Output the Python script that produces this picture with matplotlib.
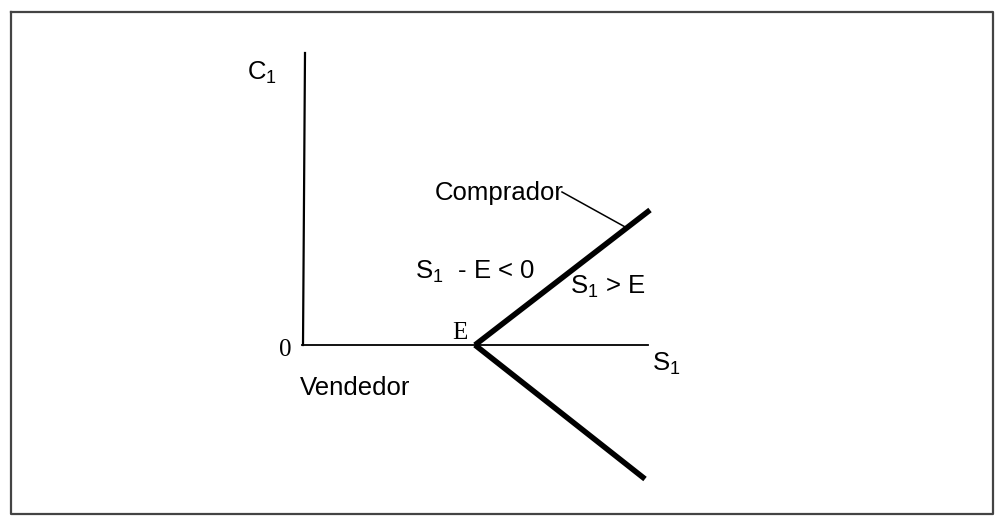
import matplotlib
matplotlib.use("Agg")
import matplotlib.pyplot as plt

plt.rcParams["mathtext.fontset"] = "custom"
plt.rcParams["mathtext.rm"] = "Liberation Sans"
plt.rcParams["mathtext.it"] = "Liberation Sans"

# diagram lines (pixel coords of the scanned figure, y down)
marco_x = [11, 993, 993, 11, 11]
marco_y = [12, 12, 514, 514, 12]
eje_c_x = [305, 303]
eje_c_y = [53, 345]
eje_s_x = [302, 648]
eje_s_y = [345, 345]
comprador_x = [475, 650]
comprador_y = [345, 210]
vendedor_x = [475, 645]
vendedor_y = [345, 479]
guia_x = [562, 627]
guia_y = [192, 228]

fig = plt.figure(figsize=(9.98, 5.18), dpi=100)
ax = fig.add_axes([0, 0, 1, 1])
ax.set_xlim(0, 998)
ax.set_ylim(518, 0)
ax.axis("off")

#frame
ax.plot(marco_x, marco_y, color="#444444", lw=1.6)

#axes
ax.plot(eje_c_x, eje_c_y, color="black", lw=1.6)
ax.plot(eje_s_x, eje_s_y, color="black", lw=1.3)

#thick lines from E
ax.plot(comprador_x, comprador_y, color="black", lw=4, solid_capstyle="butt")
ax.plot(vendedor_x, vendedor_y, color="black", lw=4, solid_capstyle="butt")
ax.plot(guia_x, guia_y, color="black", lw=1.1)

sans = "Liberation Sans"
serif = "Liberation Serif"

ax.text(247, 73, "C$_1$", fontsize=18.5, family=sans, va="center", ha="left")
ax.text(435, 193, "Comprador", fontsize=18.5, family=sans, va="center", ha="left")
ax.text(415, 272, "S$_1$  - E < 0", fontsize=18.5, family=sans, va="center", ha="left")
ax.text(570, 287, "S$_1$ > E", fontsize=18.5, family=sans, va="center", ha="left")
ax.text(652, 364, "S$_1$", fontsize=18.5, family=sans, va="center", ha="left")
ax.text(300, 388, "Vendedor", fontsize=18.5, family=sans, va="center", ha="left")
ax.text(460, 333, "E", fontsize=18, family=serif, va="center", ha="center")
ax.text(285, 350, "0", fontsize=18, family=serif, va="center", ha="center")

fig.savefig("out.png", dpi=100, facecolor="white")
